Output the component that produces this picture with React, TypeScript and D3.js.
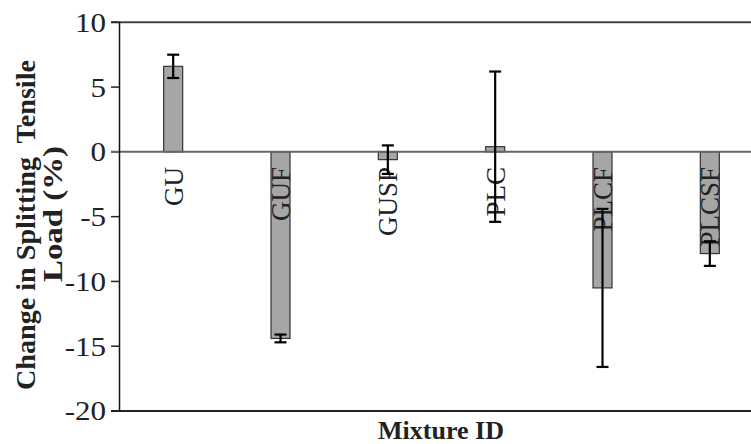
import React from "react";
import * as d3 from "d3";

const categories = ["GU", "GUF", "GUSP", "PLC", "PLCF", "PLCSF"];
const values = [6.6, -14.4, -0.6, 0.4, -10.5, -7.85];
const errors = [0.9, 0.3, 1.1, 5.8, 6.1, 0.95];
const yTicks = [10, 5, 0, -5, -10, -15, -20];

const W = 751;
const H = 444;

export default function App() {
  const x = d3.scaleBand<string>().domain(categories).range([119.5, 763.5]);
  const y = d3.scaleLinear().domain([-20, 10]).range([411, 22.3]);
  const barW = 19;
  const cap = 6;
  const serif = "'Liberation Serif', 'Times New Roman', serif";

  return (
    <svg width={W} height={H} style={{ position: "absolute", left: 0, top: 0, background: "#fff" }}>
      {/* frame top & bottom */}
      <line x1={111} x2={W} y1={y(10)} y2={y(10)} stroke="#444" strokeWidth={2} />
      <line x1={111} x2={W} y1={y(-20)} y2={y(-20)} stroke="#222" strokeWidth={2} />
      {/* ticks */}
      {yTicks.map((t) => (
        <g key={t}>
          <line x1={111} x2={119.5} y1={y(t)} y2={y(t)} stroke="#222" strokeWidth={1.5} />
          <text
            transform={`translate(106,${y(t)}) scale(1.15,1)`}
            dy="0.35em"
            textAnchor="end"
            fontFamily={serif}
            fontSize={27}
            fill="#222"
          >
            {t}
          </text>
        </g>
      ))}
      {/* bars */}
      {categories.map((c, i) => {
        const cx = x(c)! + x.bandwidth() / 2;
        const y0 = y(0);
        const y1 = y(values[i]);
        return (
          <rect
            key={c}
            x={cx - barW / 2}
            y={Math.min(y0, y1)}
            width={barW}
            height={Math.abs(y1 - y0)}
            fill="#a6a6a6"
            stroke="#333"
            strokeWidth={1.2}
          />
        );
      })}
      {/* zero line */}
      <line x1={111} x2={W} y1={y(0)} y2={y(0)} stroke="#666" strokeWidth={2} />
      {/* y axis */}
      <line x1={119.5} x2={119.5} y1={y(10)} y2={y(-20)} stroke="#111" strokeWidth={1.5} />
      {/* category labels */}
      {categories.map((c) => {
        const cx = x(c)! + x.bandwidth() / 2;
        return (
          <text
            key={c}
            transform={`translate(${cx},167) rotate(-90)`}
            textAnchor="end"
            dy="0.35em"
            fontFamily={serif}
            fontSize={27}
            fill="#222"
          >
            {c}
          </text>
        );
      })}
      {/* error bars */}
      {categories.map((c, i) => {
        const cx = x(c)! + x.bandwidth() / 2;
        const top = y(values[i] + errors[i]);
        const bot = y(values[i] - errors[i]);
        return (
          <g key={c} stroke="#000" strokeWidth={2.2}>
            <line x1={cx} x2={cx} y1={top} y2={bot} />
            <line x1={cx - cap} x2={cx + cap} y1={top} y2={top} />
            <line x1={cx - cap} x2={cx + cap} y1={bot} y2={bot} />
          </g>
        );
      })}
      {/* y title */}
      <text
        transform="translate(35,225) rotate(-90)"
        textAnchor="middle"
        fontFamily={serif}
        fontWeight="bold"
        fontSize={28}
        fill="#222"
        textLength={330}
        lengthAdjust="spacingAndGlyphs"
        style={{ whiteSpace: "pre" }}
      >
        {"Change in Splitting  Tensile"}
      </text>
      <text
        transform="translate(62,214) rotate(-90)"
        textAnchor="middle"
        fontFamily={serif}
        fontWeight="bold"
        fontSize={28}
        fill="#222"
        textLength={136}
        lengthAdjust="spacingAndGlyphs"
      >
        Load (%)
      </text>
      {/* x title */}
      <text
        x={441}
        y={439}
        textAnchor="middle"
        fontFamily={serif}
        fontWeight="bold"
        fontSize={26}
        fill="#222"
      >
        Mixture ID
      </text>
    </svg>
  );
}
